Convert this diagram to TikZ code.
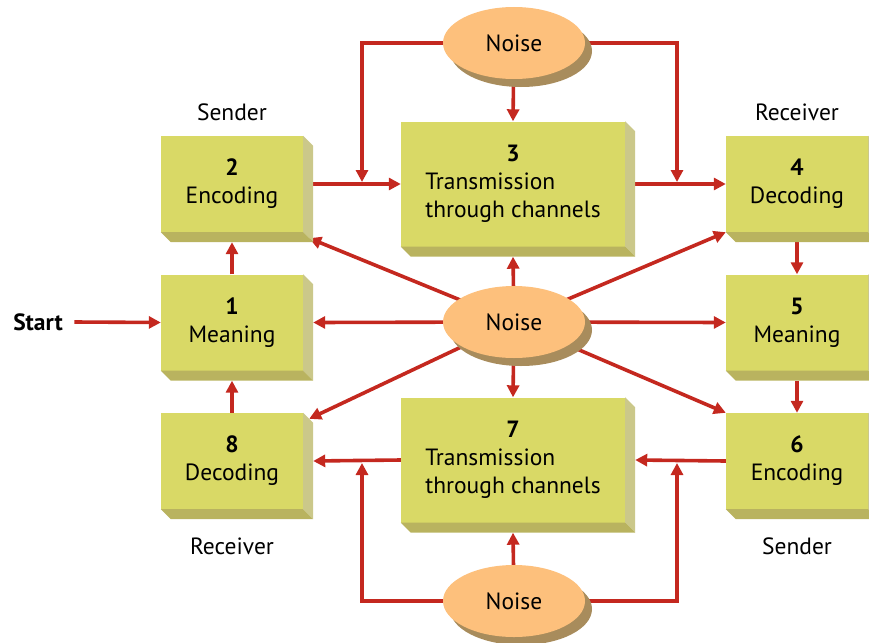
\documentclass[tikz,border=0pt]{standalone}
\usepackage{fontspec}
\setmainfont{PT Sans}
\usetikzlibrary{arrows.meta,calc,shapes.geometric,shadows}
\definecolor{boxfront}{HTML}{D9D966}
\definecolor{boxside}{HTML}{CBC88A}
\definecolor{boxbottom}{HTML}{B9B35F}
\definecolor{noisefill}{HTML}{FDC07C}
\definecolor{noiseshadow}{HTML}{A88C5C}
\definecolor{arrowred}{HTML}{C4281F}
\pgfdeclarelayer{background}
\pgfsetlayers{background,main}
\tikzset{
  txt/.style={font=\fontsize{23.5}{28}\selectfont},
  box/.style={txt, fill=boxfront, minimum width=142pt, minimum height=96pt, inner sep=0pt, align=center},
  bigbox/.style={box, minimum width=224pt, minimum height=125pt},
  noise/.style={txt, ellipse, fill=noisefill, minimum width=142pt, minimum height=72pt, inner sep=0pt,
    drop shadow={shadow xshift=7pt, shadow yshift=-8pt, fill=noiseshadow, opacity=1}},
  arr/.style={draw=arrowred, line width=3.6pt, -{Triangle[length=12pt,width=12pt]}},
  lbl/.style={txt}
}
\newcommand{\extrude}[1]{%
  \fill[boxside] (#1.north east) -- ++(10,10) -- ($(#1.south east)+(10,10)$) -- (#1.south east) -- cycle;
  \fill[boxbottom] (#1.south west) -- (#1.south east) -- ++(10,10) -- ($(#1.south west)+(10,10)$) -- cycle;}
\begin{document}
\begin{tikzpicture}[x=1pt,y=-1pt]
\useasboundingbox (0,0) rectangle (869,642);
% boxes
\node[box] (b2) at (232,184) {\textbf{2}\\[0pt]Encoding};
\node[box] (b1) at (232,322.5) {\textbf{1}\\Meaning};
\node[box] (b8) at (232,461) {\textbf{8}\\Decoding};
\node[box] (b4) at (797,184) {\textbf{4}\\Decoding};
\node[box] (b5) at (797,322.5) {\textbf{5}\\Meaning};
\node[box] (b6) at (797,461) {\textbf{6}\\Encoding};
\node[bigbox] (b3) at (513,184) {\begin{tabular}{@{}l@{}}\multicolumn{1}{@{}c@{}}{\textbf{3}}\\Transmission\\through channels\end{tabular}};
\node[bigbox] (b7) at (513,460) {\begin{tabular}{@{}l@{}}\multicolumn{1}{@{}c@{}}{\textbf{7}}\\Transmission\\through channels\end{tabular}};
\foreach \b in {b1,b2,b3,b4,b5,b6,b7,b8} {\extrude{\b}}
% noise ellipses
\node[noise] (n1) at (514,43) {Noise};
\node[noise] (n2) at (514,322) {Noise};
\node[noise] (n3) at (514,601) {Noise};
% labels
\node[lbl] (l1) at (232,112) {Sender};
\node[lbl] (l2) at (797,112) {Receiver};
\node[lbl] (l3) at (232,546) {Receiver};
\node[lbl] (l4) at (797,546) {Sender};
\node[txt, font=\fontsize{23.5}{28}\selectfont\bfseries] (start) at (38,322) {Start};
% junction coordinates
\coordinate (j1) at (362,182);
\coordinate (j2) at (677,182);
\coordinate (j3) at (362,463);
\coordinate (j4) at (677,463);
\begin{pgfonlayer}{background}
\draw[arr] ($(start.east)+(8,0)$) -- (b1.west);
\draw[arr] (b1.north) -- ($(b2.south)+(0,10)$);
\draw[arr] (b8.north) -- ($(b1.south)+(0,10)$);
\draw[arr] ($(b2.east)+(10,0)$) -- (b3.west);
\draw[arr] ($(b3.east)+(10,0)$) -- (b4.west);
\draw[arr] ($(b4.south)+(0,10)$) -- (b5.north);
\draw[arr] ($(b5.south)+(0,10)$) -- (b6.north);
\draw[arr] (b6.west) -- ($(b7.east)+(10,0)$);
\draw[arr] (b7.west) -- ($(b8.east)+(10,0)$);
% top noise
\draw[arr] (n1.center) -| (j1);
\draw[arr] (n1.center) -| (j2);
\draw[arr] (n1.center) -- (b3.north);
% middle noise
\draw[arr] (n2.center) -- ($(b3.south)+(0,10)$);
\draw[arr] (n2.center) -- (b7.north);
\draw[arr] (n2.center) -- ($(b1.east)+(10,0)$);
\draw[arr] (n2.center) -- (b5.west);
\draw[arr] (n2.center) -- ($(b2.south east)+(6,6)$);
\draw[arr] (n2.center) -- (b4.south west);
\draw[arr] (n2.center) -- ($(b8.north east)+(6,6)$);
\draw[arr] (n2.center) -- (b6.north west);
% bottom noise
\draw[arr] (n3.center) -| (j3);
\draw[arr] (n3.center) -| (j4);
\draw[arr] (n3.center) -- ($(b7.south)+(0,10)$);
\end{pgfonlayer}
\end{tikzpicture}
\end{document}
